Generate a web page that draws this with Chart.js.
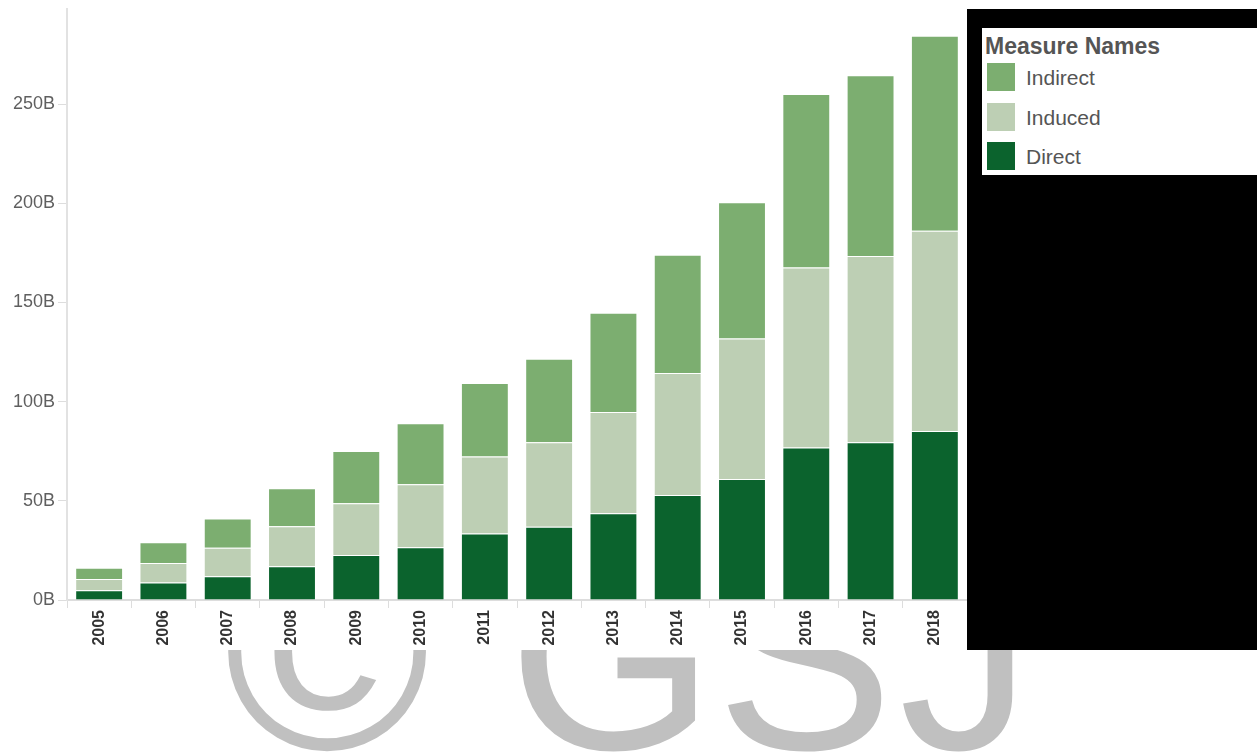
<!DOCTYPE html>
<html lang="en">
<head>
    <meta charset="UTF-8">
    <title>Economic Impact by Year</title>
    <script src="https://cdn.jsdelivr.net/npm/chart.js"></script>
    <style>
        body {
            margin: 0;
            background: #ffffff;
            font-family: 'Liberation Sans', Arial, sans-serif;
        }

        #wrap {
            position: relative;
            width: 1257px;
            height: 754px;
            overflow: hidden;
        }

        #blackPanel {
            position: absolute;
            left: 967px;
            top: 9px;
            width: 290px;
            height: 641px;
            background: #000000;
        }

        #legendBox {
            position: absolute;
            left: 982px;
            top: 28px;
            width: 275px;
            height: 147px;
            background: #ffffff;
            color: #555555;
        }

        #legendBox .title {
            position: absolute;
            left: 3px;
            top: 5px;
            font-size: 23px;
            font-weight: bold;
        }

        .item {
            position: absolute;
            left: 5px;
            height: 28px;
            font-size: 21px;
            line-height: 28px;
        }

        .item span.box {
            position: absolute;
            left: 0;
            top: 0;
            width: 28px;
            height: 28px;
        }

        .item span.label {
            position: absolute;
            left: 39px;
            top: 1px;
            white-space: nowrap;
        }
    </style>
</head>
<body>
<div id="wrap">
    <canvas id="impactChart" width="1257" height="754"></canvas>
    <div id="blackPanel"></div>
    <div id="legendBox">
        <div class="title">Measure Names</div>
        <div class="item" style="top:35px"><span class="box" style="background:#7cae70"></span><span class="label">Indirect</span></div>
        <div class="item" style="top:75px"><span class="box" style="background:#bdcfb4"></span><span class="label">Induced</span></div>
        <div class="item" style="top:114px"><span class="box" style="background:#0b632d"></span><span class="label">Direct</span></div>
    </div>
</div>

<script>
    // values in billions
    const years = ['2005', '2006', '2007', '2008', '2009', '2010', '2011',
                   '2012', '2013', '2014', '2015', '2016', '2017', '2018'];
    const direct   = [4.9, 8.8, 12.0, 17.0, 22.7, 26.6, 33.5, 36.9, 43.8, 52.9, 61.0, 76.9, 79.6, 85.2];
    const induced  = [5.7, 9.9, 14.4, 20.2, 26.1, 31.8, 38.9, 42.6, 51.0, 61.6, 70.8, 90.8, 93.8, 101.0];
    const indirect = [5.7, 10.4, 14.7, 19.2, 26.3, 30.7, 37.0, 42.2, 50.0, 59.6, 68.7, 87.4, 91.2, 98.3];
    const yTicks = [0, 50, 100, 150, 200, 250];

    // big grey watermark under the axis labels
    const watermark = {
        id: 'watermark',
        beforeDraw(chart) {
            const ctx = chart.ctx;
            ctx.save();
            ctx.beginPath();
            ctx.rect(0, 650, 1257, 104);
            ctx.clip();
            ctx.fillStyle = '#c0c0c0';
            ctx.textBaseline = 'alphabetic';
            ctx.font = '280px "Liberation Sans", Arial';
            ctx.fillText('\u00a9', 224, 749);
            ctx.font = '266px "Liberation Sans", Arial';
            ctx.fillText('G', 508, 749);
            ctx.fillText('S', 716, 749);
            ctx.fillText('J', 899, 749);
            ctx.restore();
        }
    };

    const ctx = document.getElementById('impactChart').getContext('2d');

    new Chart(ctx, {
        type: 'bar',
        data: {
            labels: years,
            datasets: [
                { label: 'Direct', data: direct, backgroundColor: '#0b632d' },
                { label: 'Induced', data: induced, backgroundColor: '#bdcfb4' },
                { label: 'Indirect', data: indirect, backgroundColor: '#7cae70' }
            ]
        },
        options: {
            responsive: false,
            animation: false,
            devicePixelRatio: 1,
            layout: {
                padding: { top: 9, right: 290, left: 0, bottom: 0 }
            },
            datasets: {
                bar: {
                    categoryPercentage: 1,
                    barPercentage: 0.745,
                    borderWidth: 1,
                    borderColor: 'rgba(255,255,255,0.3)'
                }
            },
            plugins: {
                legend: { display: false },
                tooltip: { enabled: false }
            },
            scales: {
                x: {
                    stacked: true,
                    afterFit: axis => { axis.height = 154; },
                    grid: {
                        offset: true,
                        drawOnChartArea: false,
                        tickLength: 8,
                        color: '#dddddd'
                    },
                    border: { color: '#dddddd', width: 2 },
                    ticks: {
                        minRotation: 90,
                        maxRotation: 90,
                        padding: 2,
                        color: '#333333',
                        font: { family: '"Liberation Sans", Arial', size: 16, weight: 'bold' }
                    }
                },
                y: {
                    stacked: true,
                    min: 0,
                    max: 298,
                    afterFit: axis => {
                        axis.width = 67;
                        axis.paddingTop = 0;
                        axis.paddingBottom = 0;
                    },
                    afterBuildTicks: axis => { axis.ticks = yTicks.map(v => ({ value: v })); },
                    grid: {
                        drawOnChartArea: false,
                        tickLength: 9,
                        color: '#dddddd'
                    },
                    border: { color: '#e2e2e2', width: 2 },
                    ticks: {
                        padding: 3,
                        color: '#5f5f5f',
                        font: { family: '"Liberation Sans", Arial', size: 18 },
                        callback: v => v + 'B'
                    }
                }
            }
        },
        plugins: [watermark]
    });
</script>
</body>
</html>
